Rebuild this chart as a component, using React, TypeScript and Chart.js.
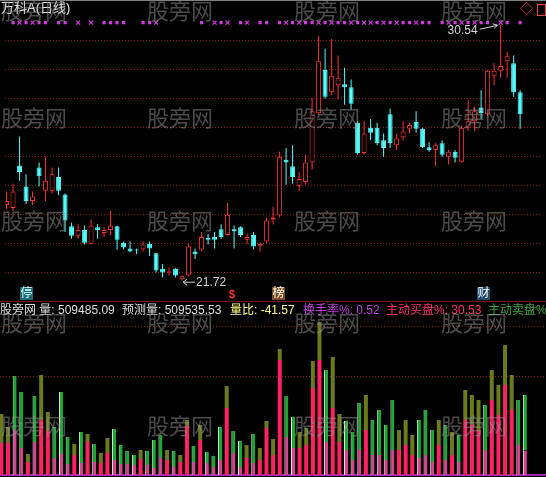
import React, { useEffect, useRef } from "react";
import { Chart, registerables } from "chart.js";

Chart.register(...registerables);

// Daily candles for 万科A (oldest first)
const opens = [
  24.33, 24.23, 25.7, 24.97, 24.47, 25.63, 24.83, 24.83, 25.3, 24.7,
  23.6, 23.27, 23.47, 23.0, 23.57, 23.37, 23.47, 23.6, 23.03, 22.83,
  22.8, 22.8, 23.0, 22.67, 22.13, 22.0, 22.13, 21.77, 21.9, 22.73,
  22.8, 23.2, 23.23, 23.5, 23.3, 23.5, 23.57, 23.13, 23.3, 22.93,
  23.07, 23.83, 23.97, 25.9, 25.67, 25.0, 25.13, 25.8, 27.5, 29.0,
  28.23, 28.47, 28.5, 28.4, 27.17, 26.13, 27.0, 27.0, 26.57, 27.47,
  26.4, 26.67, 26.97, 27.2, 26.97, 26.33, 26.23, 26.47, 26.0, 26.17,
  25.83, 27.0, 27.23, 27.7, 27.47, 28.8, 28.97, 29.3, 29.23, 28.23,
];
const highs = [
  24.8, 25.07, 26.7, 25.4, 24.8, 25.8, 26.0, 25.63, 25.63, 24.73,
  23.73, 23.67, 23.63, 23.83, 23.67, 23.57, 24.13, 23.62, 23.07, 23.07,
  22.83, 23.07, 23.07, 22.68, 22.3, 22.17, 22.15, 21.9, 23.0, 22.83,
  23.4, 23.33, 23.4, 23.67, 24.4, 23.63, 23.6, 23.33, 23.4, 23.0,
  23.9, 24.27, 26.17, 26.3, 26.4, 25.47, 26.07, 28.03, 30.17, 29.73,
  30.07, 29.5, 29.07, 28.67, 27.23, 27.23, 27.3, 27.17, 26.8, 27.67,
  26.8, 27.23, 27.17, 27.57, 27.0, 26.5, 26.47, 26.57, 26.23, 26.23,
  27.07, 27.97, 27.73, 28.3, 29.0, 29.23, 30.54, 29.63, 29.5, 28.3,
];
const lows = [
  24.2, 24.13, 25.17, 24.37, 24.33, 24.97, 24.47, 24.73, 24.67, 23.4,
  23.17, 23.17, 22.97, 22.98, 23.17, 23.23, 23.3, 22.8, 22.8, 22.7,
  22.63, 22.73, 22.57, 22.0, 21.83, 21.9, 21.83, 21.72, 21.87, 22.47,
  22.73, 22.97, 22.83, 23.17, 23.27, 22.83, 23.23, 23.0, 22.8, 22.73,
  23.0, 23.67, 23.9, 25.03, 25.07, 24.83, 25.03, 25.57, 27.47, 28.0,
  28.13, 28.0, 27.8, 27.63, 26.07, 26.07, 26.57, 26.4, 26.0, 26.3,
  26.23, 26.57, 26.8, 26.83, 26.3, 26.17, 25.67, 26.0, 25.73, 25.8,
  25.8, 26.9, 26.9, 27.3, 27.4, 28.47, 28.73, 28.73, 28.07, 26.97,
];
const closes = [
  24.47, 24.8, 25.47, 24.47, 24.63, 25.33, 25.17, 25.4, 24.83, 23.8,
  23.27, 23.47, 23.03, 23.63, 23.47, 23.47, 23.63, 23.13, 22.87, 22.73,
  22.76, 22.97, 22.83, 22.07, 22.0, 22.04, 21.9, 21.87, 22.9, 22.63,
  23.23, 23.13, 23.13, 23.23, 24.0, 23.43, 23.3, 23.23, 22.9, 23.0,
  23.8, 23.9, 26.0, 25.8, 25.3, 25.23, 25.8, 27.57, 29.3, 28.07,
  28.8, 28.73, 28.4, 27.83, 26.13, 26.8, 26.83, 26.47, 26.3, 26.47,
  26.63, 26.87, 27.1, 26.97, 26.33, 26.23, 26.4, 26.07, 26.17, 25.97,
  27.0, 27.23, 27.57, 27.5, 28.97, 28.97, 29.13, 29.47, 28.23, 27.47,
];

// Daily volume (手) and share of active buying (主动买盘%)
const volumes = [
  388500, 305700, 630500, 528600, 133700, 503200, 636900, 401200, 305700, 528600,
  242000, 197400, 273900, 261100, 197400, 140100, 235700, 293000, 191100, 152900,
  127400, 159200, 152900, 222900, 254800, 159200, 152900, 127400, 350300, 184700,
  318500, 146500, 121000, 305700, 566800, 280200, 216500, 191100, 261100, 172000,
  343900, 229300, 802500, 503200, 369400, 273900, 299300, 726100, 974500, 668700,
  751500, 388500, 343900, 273900, 458600, 509500, 350300, 414000, 318500, 477700,
  286600, 350300, 254800, 350300, 414000, 286600, 350300, 318500, 273900, 254800,
  541400, 509500, 477700, 445800, 668700, 573200, 828000, 636900, 477700, 509485.09,
];
const buyRatios = [
  52.5, 66.7, 45.5, 32.5, 61.9, 41.8, 55.0, 69.8, 35.4, 25.3,
  28.9, 64.5, 27.9, 80.5, 41.9, 54.5, 59.5, 32.6, 36.7, 45.8,
  50.0, 64.0, 41.7, 20.0, 42.5, 60.0, 33.3, 65.0, 89.1, 44.8,
  70.0, 52.2, 42.1, 31.3, 75.3, 50.0, 23.5, 56.7, 29.3, 55.6,
  87.0, 55.6, 91.3, 48.1, 46.6, 62.8, 63.8, 76.3, 75.2, 31.4,
  56.8, 54.1, 46.3, 34.9, 34.7, 56.3, 36.4, 30.8, 30.0, 33.3,
  55.6, 54.5, 50.0, 30.9, 30.8, 28.9, 54.5, 30.0, 46.5, 32.5,
  64.7, 62.5, 60.0, 35.7, 71.4, 66.7, 69.2, 65.0, 40.0, 30.53,
];

// Signal row along the top: 0 none, 1 cross, 2 square
const signalKinds = [
  0, 2, 1, 2, 1, 2, 2, 0, 2, 2,
  0, 1, 0, 1, 0, 2, 2, 2, 2, 0,
  0, 2, 2, 1, 0, 0, 0, 0, 0, 0,
  2, 0, 1, 2, 1, 0, 2, 1, 0, 2,
  2, 0, 2, 1, 2, 1, 2, 2, 1, 2,
  1, 2, 2, 1, 2, 1, 1, 2, 1, 2,
  1, 2, 2, 1, 2, 2, 0, 2, 1, 2,
  1, 2, 1, 2, 2, 0, 1, 2, 0, 2,
];
const SIGNAL_LEVEL = 30.63;

const priceGridLevels = [22, 23, 24, 25, 26, 27, 28, 29, 30];
const volumeGridLevels = [625000, 943000];

const stockTitle = "万科A(日线)";
const forecastVolume = "509535.53";
const volumeRatio = "-41.57";
const turnoverRate = "0.52";
const eventTags = [
  { text: "停", left: 20, bg: "#1d6b72", color: "#dffcff" },
  { text: "榜", left: 272, bg: "#7c4b1e", color: "#ffffff" },
  { text: "财", left: 477, bg: "#1c4b6e", color: "#ffffff" },
];

const UP = "#ff3232";
const DOWN = "#54fcfc";
const GRID = "#8a1d1d";
const X_MIN = -0.21;
const X_MAX = 82.18;
const PRICE_MIN = 21.2333;
const PRICE_MAX = 31.2333;
const VOLUME_MAX = 1114600;

const idx = closes.map((_, i) => i);
const isUp = (i: number) => closes[i] >= opens[i];

const TEXT_FONT = '"Liberation Sans", "Noto Sans CJK SC", sans-serif';

const extremaLabels = {
  id: "extremaLabels",
  afterDatasetsDraw(chart: any) {
    const { ctx, scales } = chart;
    const x = scales.x;
    const y = scales.y;
    const hiVal = Math.max(...highs);
    const loVal = Math.min(...lows);
    const hi = highs.indexOf(hiVal);
    const lo = lows.indexOf(loVal);
    ctx.save();
    ctx.font = "12px " + TEXT_FONT;
    ctx.fillStyle = "#d2d2d2";
    ctx.strokeStyle = "#d2d2d2";
    ctx.lineWidth = 1;

    // highest high: label with a slanted arrow
    const tipX = x.getPixelForValue(hi) - 3;
    const tipY = y.getPixelForValue(hiVal);
    const tailX = tipX - 18;
    const tailY = tipY + 4;
    ctx.beginPath();
    ctx.moveTo(tailX, tailY);
    ctx.lineTo(tipX, tipY);
    ctx.moveTo(tipX - 5, tipY - 1.5);
    ctx.lineTo(tipX, tipY);
    ctx.lineTo(tipX - 3.5, tipY + 3);
    ctx.stroke();
    ctx.textAlign = "right";
    ctx.textBaseline = "middle";
    ctx.fillText(hiVal.toFixed(2), tailX - 2, tailY + 1);

    // lowest low: arrow pointing back at the candle
    const lx = x.getPixelForValue(lo);
    const ly = y.getPixelForValue(loVal) + 1.5;
    ctx.beginPath();
    ctx.moveTo(lx + 13, ly);
    ctx.lineTo(lx + 1, ly);
    ctx.moveTo(lx + 5, ly - 3);
    ctx.lineTo(lx + 1, ly);
    ctx.lineTo(lx + 5, ly + 3);
    ctx.stroke();
    ctx.textAlign = "left";
    ctx.fillText(loVal.toFixed(2), lx + 14, ly);
    ctx.restore();
  },
};

export default function App() {
  const priceRef = useRef<HTMLCanvasElement>(null);
  const volRef = useRef<HTMLCanvasElement>(null);

  useEffect(() => {
    const crossIdx = idx.filter((i) => signalKinds[i] === 1);
    const squareIdx = idx.filter((i) => signalKinds[i] === 2);

    const priceChart = new Chart(priceRef.current as HTMLCanvasElement, {
      type: "bar",
      data: {
        datasets: [
          {
            type: "scatter",
            data: crossIdx.map((i) => ({ x: i, y: SIGNAL_LEVEL })),
            pointStyle: "crossRot",
            pointRadius: 2.8,
            borderColor: "#d23ce0",
            borderWidth: 1.2,
            order: 0,
          } as any,
          {
            type: "scatter",
            data: squareIdx.map((i) => ({ x: i, y: SIGNAL_LEVEL })),
            pointStyle: "rect",
            pointRadius: 2.2,
            backgroundColor: "#d23ce0",
            borderColor: "#d23ce0",
            borderWidth: 0,
            order: 0,
          } as any,
          {
            type: "bar",
            data: idx.map((i) => ({ x: i, y: [opens[i], closes[i]] })),
            backgroundColor: idx.map((i) => (isUp(i) ? "#000000" : DOWN)),
            borderColor: idx.map((i) => (isUp(i) ? UP : DOWN)),
            borderWidth: 1,
            borderSkipped: false,
            barThickness: 5,
            grouped: false,
            inflateAmount: 0,
            order: 1,
          } as any,
          {
            type: "bar",
            data: idx.map((i) => ({ x: i, y: [lows[i], highs[i]] })),
            backgroundColor: idx.map((i) => (isUp(i) ? UP : DOWN)),
            borderWidth: 0,
            barThickness: 1,
            grouped: false,
            inflateAmount: 0,
            order: 2,
          } as any,
        ],
      },
      options: {
        responsive: false,
        animation: false,
        devicePixelRatio: 1,
        events: [],
        layout: { padding: 0 },
        plugins: { legend: { display: false }, tooltip: { enabled: false } },
        scales: {
          x: { type: "linear", min: X_MIN, max: X_MAX, offset: false, display: false },
          y: {
            type: "linear",
            min: PRICE_MIN,
            max: PRICE_MAX,
            ticks: { display: false },
            grid: { color: GRID, lineWidth: 1, drawTicks: false, borderDash: [1, 2] } as any,
            border: { display: false, dash: [1, 2] },
            afterFit: (s: any) => {
              s.width = 0;
            },
            afterBuildTicks: (s: any) => {
              s.ticks = priceGridLevels.map((v) => ({ value: v }));
            },
          },
        },
      },
      plugins: [extremaLabels],
    } as any);

    const buyVol = idx.map((i) => (volumes[i] * buyRatios[i]) / 100);
    const volChart = new Chart(volRef.current as HTMLCanvasElement, {
      type: "bar",
      data: {
        datasets: [
          {
            data: idx.map((i) => ({ x: i, y: [0, buyVol[i]] })),
            backgroundColor: idx.map((i) => (isUp(i) ? "#ff2262" : "#d8428e")),
            borderColor: "#e6e6e6",
            borderWidth: (c: any) =>
              isUp(c.dataIndex) ? 0 : { left: 1, right: 0, top: 0, bottom: 0 },
            borderSkipped: false,
            barThickness: 4,
            grouped: false,
            inflateAmount: 0,
          },
          {
            data: idx.map((i) => ({ x: i, y: [buyVol[i], volumes[i]] })),
            backgroundColor: idx.map((i) => (isUp(i) ? "#6a7b1e" : "#17ab30")),
            borderColor: "#e6e6e6",
            borderWidth: (c: any) =>
              isUp(c.dataIndex) ? 0 : { left: 1, right: 0, top: 0, bottom: 0 },
            borderSkipped: false,
            barThickness: 4,
            grouped: false,
            inflateAmount: 0,
          },
        ],
      },
      options: {
        responsive: false,
        animation: false,
        devicePixelRatio: 1,
        events: [],
        layout: { padding: { left: 0, right: 0, top: 0, bottom: 2 } },
        plugins: { legend: { display: false }, tooltip: { enabled: false } },
        scales: {
          x: {
            type: "linear",
            min: X_MIN,
            max: X_MAX,
            offset: false,
            ticks: { display: false },
            grid: { display: false },
            border: { display: true, color: "#9a28ac", width: 2 },
            afterFit: (s: any) => {
              s.height = 0;
            },
          },
          y: {
            type: "linear",
            min: 0,
            max: VOLUME_MAX,
            ticks: { display: false },
            grid: { color: GRID, lineWidth: 1, drawTicks: false, borderDash: [1, 2] } as any,
            border: { display: false, dash: [1, 2] },
            afterFit: (s: any) => {
              s.width = 0;
            },
            afterBuildTicks: (s: any) => {
              s.ticks = volumeGridLevels.map((v) => ({ value: v }));
            },
          },
        },
      },
    } as any);

    return () => {
      priceChart.destroy();
      volChart.destroy();
    };
  }, []);

  const last = closes.length - 1;
  const watermarkRows = [-3, 104, 207, 309, 412];
  const watermarkCols = [1, 147, 294, 441];

  const abs = (extra: React.CSSProperties): React.CSSProperties => ({
    position: "absolute",
    whiteSpace: "nowrap",
    ...extra,
  });

  return (
    <div
      style={{
        position: "fixed",
        left: 0,
        top: 0,
        width: 546,
        height: 477,
        background: "#000000",
        overflow: "hidden",
        fontFamily: TEXT_FONT,
      }}
    >
      <canvas
        ref={priceRef}
        width={546}
        height={300}
        style={{ position: "absolute", left: 0, top: 0, display: "block" }}
      />
      <canvas
        ref={volRef}
        width={546}
        height={177}
        style={{ position: "absolute", left: 0, top: 300, display: "block" }}
      />

      {/* frame line along the top */}
      <div style={abs({ left: 0, top: 0, width: 546, height: 1, background: "#808080" })} />
      {/* separator above the volume pane */}
      <div style={abs({ left: 0, top: 301, width: 546, height: 1, background: "#6e1414" })} />

      <div style={abs({ left: 1, top: 1, fontSize: 13, lineHeight: "14px", color: "#e8e8e8" })}>
        {stockTitle}
      </div>
      <div style={abs({ left: 520, top: 2, fontSize: 13, lineHeight: "14px", color: "#ff4040" })}>◇</div>
      <div
        style={abs({
          left: 537,
          top: 4,
          width: 9,
          height: 12,
          border: "1px solid #ff4040",
          boxSizing: "border-box",
        })}
      />

      {eventTags.map((t) => (
        <div
          key={t.text}
          style={abs({
            left: t.left,
            top: 287,
            width: 13,
            height: 13,
            background: t.bg,
            color: t.color,
            fontSize: 12,
            lineHeight: "13px",
            textAlign: "center",
          })}
        >
          {t.text}
        </div>
      ))}
      <div style={abs({ left: 229, top: 288, fontSize: 11, lineHeight: "12px", color: "#ff3030", fontWeight: "bold" })}>$</div>

      {/* indicator legend of the volume pane */}
      <div style={abs({ left: 0, top: 303, fontSize: 12, lineHeight: "14px", color: "#dcdcdc" })}>
        股旁网 量: {volumes[last].toFixed(2)}
      </div>
      <div style={abs({ left: 122, top: 303, fontSize: 12, lineHeight: "14px", color: "#dcdcdc" })}>
        预测量: {forecastVolume}
      </div>
      <div style={abs({ left: 230, top: 303, fontSize: 12, lineHeight: "14px", color: "#ffff8a" })}>
        量比: {volumeRatio}
      </div>
      <div style={abs({ left: 303, top: 303, fontSize: 12, lineHeight: "14px", color: "#c83ee0" })}>
        换手率%: {turnoverRate}
      </div>
      <div style={abs({ left: 386, top: 303, fontSize: 12, lineHeight: "14px", color: "#ff3264" })}>
        主动买盘%: {buyRatios[last].toFixed(2)}
      </div>
      <div style={abs({ left: 488, top: 303, fontSize: 12, lineHeight: "14px", color: "#3aa83a" })}>
        主动卖盘%
      </div>

      {watermarkRows.map((top) =>
        watermarkCols.map((left) => (
          <div
            key={top + "-" + left}
            style={abs({
              left,
              top,
              fontSize: 22,
              lineHeight: "24px",
              color: "rgba(150,150,150,0.5)",
              fontFamily: '"Noto Sans CJK SC", sans-serif',
              pointerEvents: "none",
            })}
          >
            股旁网
          </div>
        ))
      )}
    </div>
  );
}
